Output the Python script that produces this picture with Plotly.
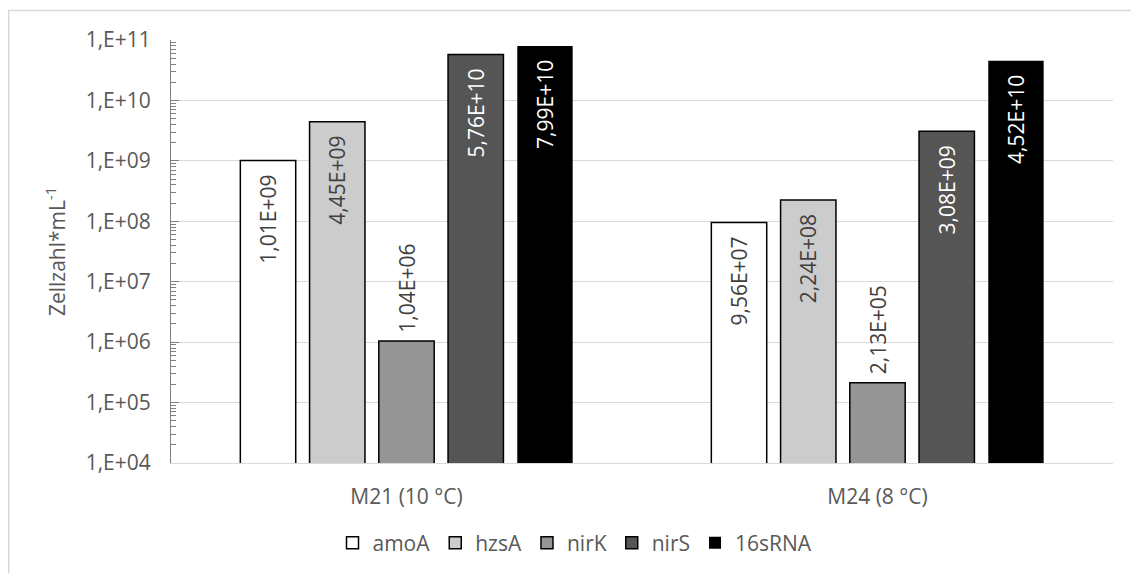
import plotly.graph_objects as go

categories = ["M21 (10 °C)", "M24 (8 °C)"]
series_names = ["amoA", "hzsA", "nirK", "nirS", "16sRNA"]
amoA = [1.01e9, 9.56e7]
hzsA = [4.45e9, 2.24e8]
nirK = [1.04e6, 2.13e5]
nirS = [5.76e10, 3.08e9]
rna16s = [7.99e10, 4.52e10]
series_values = [amoA, hzsA, nirK, nirS, rna16s]

y_tick_vals = [1e4, 1e5, 1e6, 1e7, 1e8, 1e9, 1e10, 1e11]
y_tick_text = ["1,E+04", "1,E+05", "1,E+06", "1,E+07", "1,E+08", "1,E+09", "1,E+10", "1,E+11"]

fill_colors = ["#ffffff", "#cccccc", "#959595", "#555555", "#000000"]
line_widths = [1.5, 1.5, 1.5, 1.5, 0]
text_colors = ["#404040", "#404040", "#404040", "#ffffff", "#ffffff"]
text_pos = ["inside", "inside", "outside", "inside", "inside"]

FONT = "Open Sans"
FS = 21
NB = "\u00a0"


def fmt(v):
    s = f"{v:.2E}"
    mant, exp = s.split("E")
    sign = exp[0]
    e = int(exp[1:])
    return f"{mant.replace('.', ',')}E{sign}{e:02d}"


fig = go.Figure()
for name, vals, fc, lw, tc, tp in zip(series_names, series_values, fill_colors,
                                     line_widths, text_colors, text_pos):
    if tp == "inside":
        texts = [fmt(v) + NB * 2 for v in vals]
    else:
        texts = [NB + fmt(v) for v in vals]
    fig.add_trace(go.Bar(
        name=name, x=categories, y=vals,
        marker=dict(color=fc, line=dict(color="#000000", width=lw)),
        text=texts, textposition=tp, textangle=-90,
        insidetextanchor="end",
        textfont=dict(family=FONT, size=FS, color=tc),
        cliponaxis=False,
        hoverinfo="skip",
    ))

# page body adds an 8px offset; figure coordinates = screen - 8
W, H = 1123, 565
L, R, T, B = 163, 18, 32, 110
pw, ph = W - L - R, H - T - B

minor_vals = [m * 10 ** d for d in range(4, 11) for m in range(2, 10)]

fig.update_layout(
    width=W, height=H,
    margin=dict(l=L, r=R, t=T, b=B, autoexpand=False),
    paper_bgcolor="white", plot_bgcolor="white",
    barmode="group", bargap=0.265, bargroupgap=0.2,
    font=dict(family=FONT, size=FS, color="#595959"),
    uniformtext=dict(minsize=FS, mode="show"),
    showlegend=True,
    legend=dict(orientation="h", x=(567 - L) / pw, xanchor="center",
                y=-80 / ph, yanchor="middle",
                font=dict(family=FONT, size=FS, color="#595959"),
                itemwidth=30, traceorder="normal", bgcolor="rgba(0,0,0,0)"),
    xaxis=dict(showline=True, linecolor="#d9d9d9", linewidth=1,
               ticks="", ticklabelstandoff=15,
               tickfont=dict(family=FONT, size=FS, color="#595959"),
               showgrid=False, zeroline=False),
    yaxis=dict(type="log", range=[4, 11],
               tickmode="array", tickvals=y_tick_vals, ticktext=y_tick_text,
               ticks="inside", ticklen=8, tickcolor="#7f7f7f", tickwidth=1,
               ticklabelstandoff=15,
               showline=True, linecolor="#7f7f7f", linewidth=1,
               showgrid=True, gridcolor="#d9d9d9", gridwidth=1,
               minor=dict(tickmode="array", tickvals=minor_vals, ticks="inside",
                          ticklen=5, tickcolor="#7f7f7f", showgrid=False),
               tickfont=dict(family=FONT, size=FS, color="#595959"),
               title=dict(text="Zellzahl*mL<sup>-1</sup>", standoff=14,
                          font=dict(family=FONT, size=FS, color="#595959")),
               zeroline=False),
    shapes=[dict(type="rect", xref="paper", yref="paper",
                 x0=(0.75 - L) / pw, x1=(W + 20 - L) / pw,
                 y0=-(H + 20 - (T + ph)) / ph, y1=(T + ph - 2.5) / ph,
                 line=dict(color="#d9d9d9", width=1.5), fillcolor="rgba(0,0,0,0)",
                 layer="below")],
)

fig.write_html("out.html")
